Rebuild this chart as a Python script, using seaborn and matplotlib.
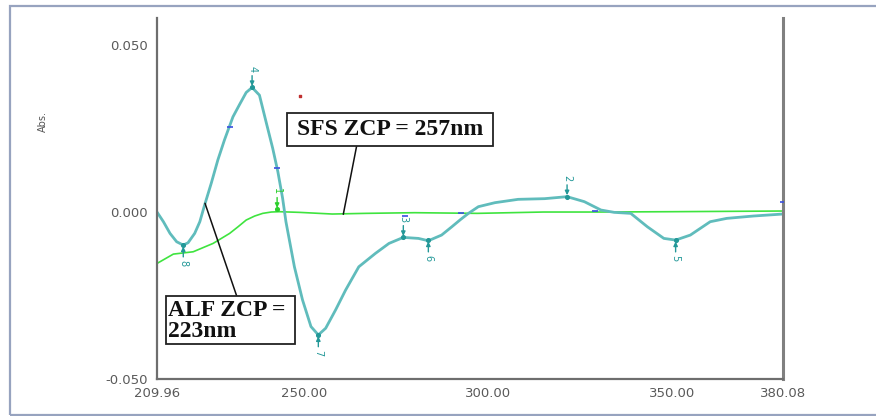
import matplotlib
matplotlib.use("Agg")
import matplotlib.pyplot as plt
import matplotlib.patches as mpatches
import matplotlib.lines as mlines
import seaborn as sns
import pandas as pd

# ---- data ----
alf_wl = [209.96, 211.7, 213.5, 215.3, 217.1, 218.4, 220.2, 221.6, 222.9, 224.7,
          226.5, 228.3, 230.6, 232.4, 234.2, 235.8, 237.8, 239.6, 241.4, 242.8,
          244.1, 245.0, 247.3, 249.5, 251.8, 253.8, 255.8, 258.5, 261.2, 264.8,
          269.3, 273.0, 276.9, 281.0, 283.7, 287.3, 290.1, 292.5, 294.6, 297.3,
          301.8, 308.1, 315.3, 321.4, 326.1, 330.6, 334.2, 338.7, 343.2, 347.7,
          350.9, 354.9, 360.3, 364.8, 372.0, 380.08]
alf_abs = [0.0000, -0.0029, -0.0064, -0.0089, -0.0099, -0.0092, -0.0064, -0.0029, 0.0021, 0.0086,
           0.0156, 0.0216, 0.0285, 0.0322, 0.0358, 0.0373, 0.0350, 0.0270, 0.0191, 0.0121,
           0.0041, -0.0029, -0.0164, -0.0263, -0.0343, -0.0368, -0.0348, -0.0293, -0.0234, -0.0164,
           -0.0124, -0.0094, -0.0076, -0.0079, -0.0086, -0.0069, -0.0044, -0.0022, -0.0004, 0.0016,
           0.0028, 0.0038, 0.0040, 0.0046, 0.0031, 0.0006, -0.0001, -0.0004, -0.0044, -0.0079,
           -0.0084, -0.0069, -0.0029, -0.0019, -0.0012, -0.0006]

sfs_wl = [209.96, 214.4, 219.8, 225.2, 229.7, 232.0, 234.2, 236.5, 238.7, 241.0,
          243.2, 248.6, 257.6, 266.6, 280.0, 297.0, 315.0, 330.0, 350.0, 365.0, 380.08]
sfs_abs = [-0.0154, -0.0126, -0.0119, -0.0094, -0.0064, -0.0044, -0.0024, -0.0012, -0.0004, 0.0000,
           0.0001, -0.0001, -0.0006, -0.0004, -0.0002, -0.0004, 0.0000, 0.0000, 0.0001, 0.0002, 0.0003]

peak_ids = ["8", "4", "1", "7", "3", "6", "2", "5"]
peak_wl = [217.1, 235.8, 242.6, 253.8, 276.9, 283.7, 321.4, 350.9]
peak_abs = [-0.0099, 0.0373, 0.0008, -0.0368, -0.0076, -0.0084, 0.0046, -0.0084]
peak_kind = ["min", "max", "max", "min", "max", "min", "max", "min"]
peak_curve = ["ALF", "ALF", "SFS", "ALF", "ALF", "ALF", "ALF", "ALF"]

mark_wl = [229.7, 242.7, 277.4, 292.5, 329.0, 380.0]
mark_abs = [0.0255, 0.0132, -0.0011, -0.0002, 0.0003, 0.0030]

x_ticks = [209.96, 250.00, 300.00, 350.00, 380.08]
x_ticklabels = ["209.96", "250.00", "300.00", "350.00", "380.08"]
y_ticks = [-0.050, 0.000, 0.050]
y_ticklabels = ["-0.050", "0.000", "0.050"]

sfs_text = "SFS ZCP = 257nm"
alf_text = "ALF ZCP =\n223nm"

# ---- figure ----
sns.set_style("white")
plt.rcParams["font.family"] = ["DejaVu Sans"]

W, H = 876, 416
fig = plt.figure(figsize=(W / 100, H / 100), dpi=100)
ax = fig.add_axes([157 / W, 1 - 379 / H, (783 - 157) / W, (379 - 18) / H])

teal = "#60bcbc"
teal_dark = "#239898"
green = "#3fe43f"

df_alf = pd.DataFrame({"wl": alf_wl, "abs": alf_abs})
df_sfs = pd.DataFrame({"wl": sfs_wl, "abs": sfs_abs})
sns.lineplot(data=df_sfs, x="wl", y="abs", ax=ax, color=green, lw=1.2, sort=False)
sns.lineplot(data=df_alf, x="wl", y="abs", ax=ax, color=teal, lw=2.0, sort=False)
for ln in ax.lines:
    ln.set_solid_joinstyle("round")

ax.set_xlim(209.96, 380.08)
ax.set_ylim(-0.050, 0.0581)

# small blue marks
ax.scatter(mark_wl, mark_abs, marker="_", s=18, color="#3a4fe0", lw=1.2, zorder=4)
ax.scatter([248.9], [0.0347], marker="s", s=1.5, color="#c03030", zorder=4)

# peak labels
for pid, w, v, kind, cv in zip(peak_ids, peak_wl, peak_abs, peak_kind, peak_curve):
    col = teal_dark if cv == "ALF" else "#2ccf2c"
    sgn = 1 if kind == "max" else -1
    ax.annotate("", xy=(w, v), xytext=(0, sgn * 8.5), textcoords="offset points",
                arrowprops=dict(arrowstyle="-|>,head_length=0.25,head_width=0.12",
                                color=col, lw=1.0, shrinkA=0, shrinkB=1))
    ax.scatter([w], [v], s=7, color=col, zorder=5)
    ax.annotate(pid, xy=(w, v), xytext=(0, sgn * 13), textcoords="offset points",
                ha="center", va="center", rotation=270, fontsize=7, color=col)

# annotation boxes (drawn in pixel coordinates of the figure)
def px_box(x0, y0, x1, y1):
    r = mpatches.Rectangle((x0 / W, 1 - y1 / H), (x1 - x0) / W, (y1 - y0) / H,
                           transform=fig.transFigure, facecolor="white",
                           edgecolor="#222222", lw=1.3, zorder=6)
    fig.patches.append(r)

def px_line(x0, y0, x1, y1):
    l = mlines.Line2D([x0 / W, x1 / W], [1 - y0 / H, 1 - y1 / H],
                      transform=fig.transFigure, color="#111111", lw=1.1, zorder=5)
    fig.lines.append(l)

px_line(356.7, 145.7, 343.3, 214.3)
px_line(236.7, 296.0, 205.0, 203.3)
px_box(287.3, 112.7, 493.3, 145.7)
px_box(165.7, 296.3, 294.7, 344.3)
fig.text(390.3 / W, 1 - 129.5 / H, sfs_text, ha="center", va="center",
         fontsize=17, fontweight="bold", family="Liberation Serif", color="#111111", zorder=7)
fig.text(168 / W, 1 - 321 / H, alf_text, ha="left", va="center", linespacing=0.95,
         fontsize=17, fontweight="bold", family="Liberation Serif", color="#111111", zorder=7)

# axes styling
for s in ["left", "bottom", "right"]:
    ax.spines[s].set_visible(True)
    ax.spines[s].set_color("#6e6e6e")
    ax.spines[s].set_linewidth(1.6)
ax.spines["top"].set_visible(False)
ax.spines["right"].set_color("#808080")
ax.spines["right"].set_linewidth(2.2)

ax.set_xticks(x_ticks)
ax.set_xticklabels(x_ticklabels)
ax.set_yticks(y_ticks)
ax.set_yticklabels(y_ticklabels)
ax.tick_params(axis="x", direction="in", length=4.5, width=1.5, color="#555555",
               labelsize=9.5, labelcolor="#5a5a5a", pad=6)
ax.tick_params(axis="y", direction="out", length=4.5, width=1.2, color="#555555",
               labelsize=9.5, labelcolor="#5a5a5a", pad=2)
ax.set_xlabel("")
ax.set_ylabel("")
ax.grid(False)

fig.text(43 / W, 1 - 122 / H, "Abs.", rotation=90, ha="center", va="center",
         fontsize=7, color="#555555")

# outer border of the picture
border = mpatches.Rectangle((10 / W, 1 - 414.5 / H), 900 / W, 409 / H,
                            transform=fig.transFigure, fill=False,
                            edgecolor="#97a3bf", lw=1.6, zorder=0)
fig.patches.append(border)

fig.savefig("out.png", dpi=100)
